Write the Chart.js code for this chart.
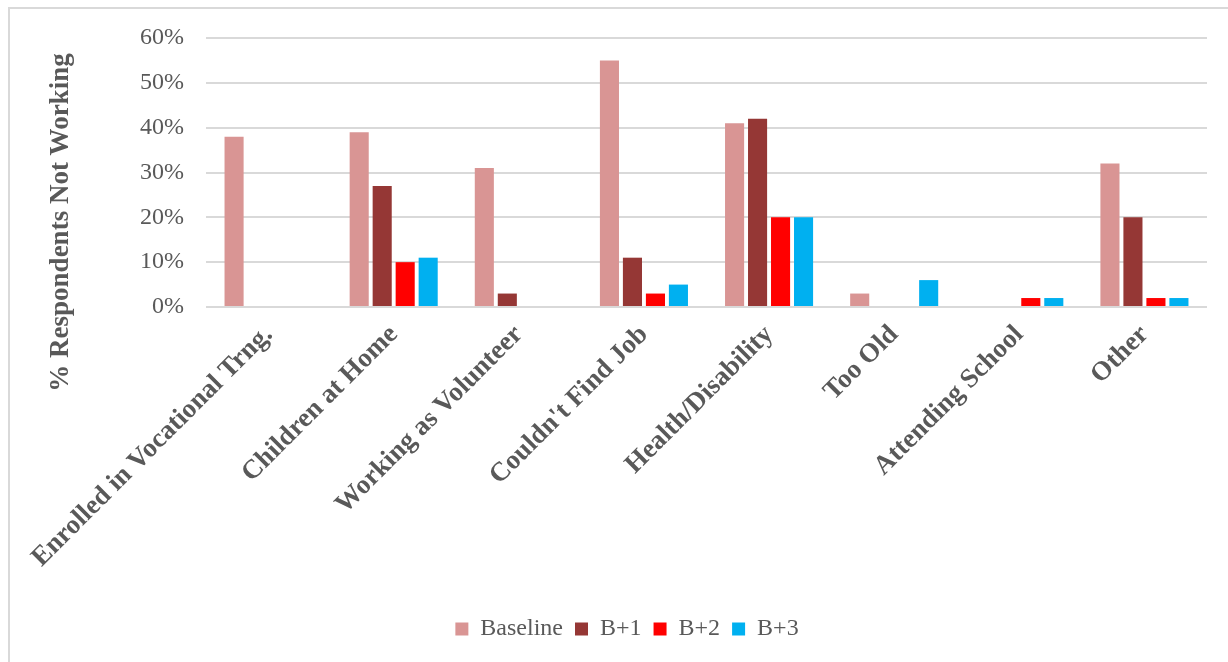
<!DOCTYPE html>
<html>
<head>
<meta charset="utf-8">
<script src="https://cdn.jsdelivr.net/npm/chart.js@4/dist/chart.umd.min.js"></script>
<style>
  html, body { margin: 0; padding: 0; background: #ffffff; }
  body { width: 1228px; height: 662px; position: relative; overflow: hidden; }
  #frame {
    position: absolute; left: 8px; top: 7px; width: 1260px; height: 700px;
    border: 2px solid #d9d9d9; box-sizing: border-box;
  }
  #wrap { position: absolute; left: 0; top: 0; width: 1228px; height: 662px; }
</style>
</head>
<body>
<div id="frame"></div>
<div id="wrap"><canvas id="chart" width="1228" height="662"></canvas></div>
<script>
// Reasons given for not working, % of respondents per survey wave
const categories = [
  'Enrolled in Vocational Trng.', 'Children at Home', 'Working as Volunteer',
  "Couldn't Find Job", 'Health/Disability', 'Too Old', 'Attending School', 'Other'
];
const baseline = [38, 39, 31, 55, 41, 3, 0, 32];
const bPlus1   = [0, 27, 3, 11, 42, 0, 0, 20];
const bPlus2   = [0, 10, 0, 3, 20, 0, 2, 2];
const bPlus3   = [0, 11, 0, 5, 20, 6, 2, 2];
const seriesNames = ['Baseline', 'B+1', 'B+2', 'B+3'];
const yTicks = [0, 10, 20, 30, 40, 50, 60];
const yTitle = '% Respondents Not Working';

const colors = ['#D99594', '#953735', '#FF0000', '#00B0F0'];
const gray = '#595959';
const serif = '"Liberation Serif", "DejaVu Serif", serif';

// Vertical axis title, centred a little below the plot's middle
const yTitlePlugin = {
  id: 'yTitle',
  afterDraw(chart, args, opts) {
    const { ctx, chartArea } = chart;
    ctx.save();
    ctx.translate(chartArea.left + opts.dx, (chartArea.top + chartArea.bottom) / 2 + opts.dy);
    ctx.rotate(-Math.PI / 2);
    ctx.font = 'bold 27px ' + serif;
    ctx.fillStyle = gray;
    ctx.textAlign = 'center';
    ctx.textBaseline = 'middle';
    ctx.fillText(opts.text, 0, 0);
    ctx.restore();
  }
};

const values = [baseline, bPlus1, bPlus2, bPlus3];

new Chart(document.getElementById('chart'), {
  type: 'bar',
  data: {
    labels: categories,
    datasets: seriesNames.map((name, i) => ({
      label: name,
      data: values[i],
      backgroundColor: colors[i],
      borderWidth: 0,
      categoryPercentage: 0.735,
      barPercentage: 0.83
    }))
  },
  plugins: [yTitlePlugin],
  options: {
    responsive: false,
    animation: false,
    layout: { padding: { left: 47, right: 21, top: 38, bottom: 11 } },
    plugins: {
      legend: {
        position: 'bottom',
        labels: {
          boxWidth: 13, boxHeight: 13, padding: 12,
          color: gray,
          font: { family: serif, size: 24 }
        }
      },
      tooltip: { enabled: false },
      yTitle: { text: yTitle, dx: -145, dy: 50 }
    },
    scales: {
      x: {
        grid: { display: false },
        border: { display: false },
        afterFit(scale) { scale.height = 298; },
        ticks: {
          autoSkip: false, minRotation: 45, maxRotation: 45,
          color: gray, padding: 4,
          font: { family: serif, size: 27, weight: 'bold' }
        }
      },
      y: {
        min: 0, max: 60,
        afterFit(scale) { scale.width = 159; },
        afterBuildTicks(scale) { scale.ticks = yTicks.map(v => ({ value: v })); },
        border: { display: false },
        grid: { color: '#d9d9d9', lineWidth: 2, drawTicks: false },
        ticks: {
          padding: 22, color: gray,
          font: { family: serif, size: 24 },
          callback: v => v + '%'
        }
      }
    }
  }
});
</script>
</body>
</html>
